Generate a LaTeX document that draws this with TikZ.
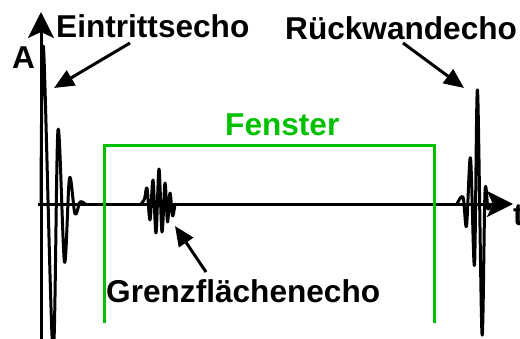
\documentclass[tikz,border=0pt]{standalone}
\usepackage{fontspec}
\setmainfont{Liberation Sans}
\usetikzlibrary{arrows.meta}
\definecolor{fgreen}{RGB}{0,192,0}
\begin{document}
\begin{tikzpicture}[x=1pt,y=-1pt,
  lbl/.style={font=\fontsize{31.6}{33}\selectfont\bfseries,inner sep=0pt,anchor=base west},
  axis/.style={line width=3pt,-{Stealth[length=26pt,width=26pt,inset=6pt]}},
  callout/.style={line width=3pt,-{Triangle[length=20pt,width=17pt]}},
  wave/.style={line width=3pt,line join=round,line cap=round},
  window/.style={draw=fgreen,line width=3pt}]
\useasboundingbox (0,0) rectangle (520,338);

% axes
\coordinate (ytop) at (41,12);
\coordinate (ybot) at (41,340);
\coordinate (xstart) at (38,204);
\coordinate (xend) at (513,204);
\draw[axis] (ybot) -- (ytop);
\draw[axis] (xstart) -- (xend);
\node[lbl] (A) at (12,68) {A};
\node[lbl] (t) at (513,225) {t};

% measurement window
\draw[window] (104,323) -- (104,145) -- (434,145) -- (434,323);
\node[lbl,text=fgreen] (fenster) at (225,135) {Fenster};

% entry echo
\draw[wave] plot[smooth,tension=0.55] coordinates {(41,204) (43.5,48) (53,352) (58,130) (64.5,262) (69.5,178) (75,214) (80,202) (85,204)};
% interface echo
\draw[wave] plot[smooth,tension=0.55] coordinates {(141,204) (144.5,199) (147,188) (150,220) (153,180) (156,233) (159,169) (162,232) (165,183) (167.5,222) (170,193) (172.5,216) (175,204)};
% back wall echo
\draw[wave] plot[smooth,tension=0.55] coordinates {(457,204) (463,197) (466.5,226) (470.5,158) (474.5,265) (477.5,90) (482,334) (485,192) (488,209) (491,204)};

% labels with arrows
\node[lbl] (ein) at (56,37) {Eintrittsecho};
\node[lbl] (rueck) at (285,39) {Rückwandecho};
\node[lbl] (grenz) at (106,302) {Grenzflächenecho};
\coordinate (einS) at (130,43);
\coordinate (einT) at (54,88);
\coordinate (rueckS) at (403,43);
\coordinate (rueckT) at (464,88);
\coordinate (grenzS) at (206,272);
\coordinate (grenzT) at (175,226);
\draw[callout] (einS) -- (einT);
\draw[callout] (rueckS) -- (rueckT);
\draw[callout] (grenzS) -- (grenzT);
\end{tikzpicture}
\end{document}
